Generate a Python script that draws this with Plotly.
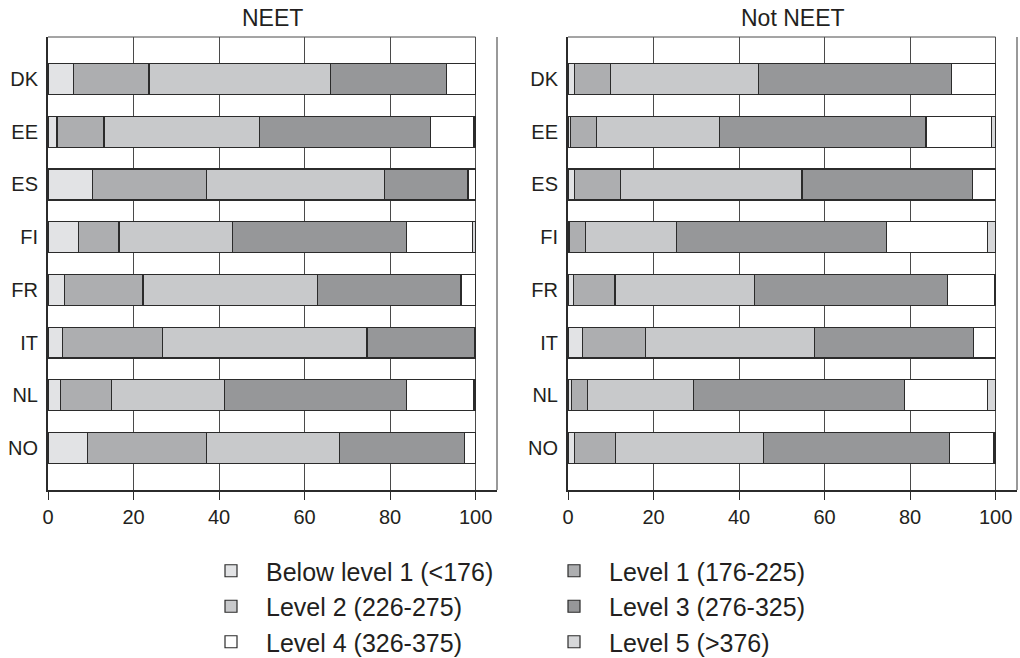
import plotly.graph_objects as go

countries = ["DK", "EE", "ES", "FI", "FR", "IT", "NL", "NO"]
level_names = [
    "Below level 1 (<176)",
    "Level 1 (176-225)",
    "Level 2 (226-275)",
    "Level 3 (276-325)",
    "Level 4 (326-375)",
    "Level 5 (>376)",
]

# NEET panel (percent per level)
neet_bl1 = [5.9, 2.1, 10.4, 7.1, 3.8, 3.4, 2.9, 9.2]
neet_l1 = [17.7, 11.0, 26.7, 9.5, 18.4, 23.4, 12.0, 27.9]
neet_l2 = [42.4, 36.3, 41.6, 26.5, 40.8, 47.8, 26.3, 31.1]
neet_l3 = [27.2, 40.1, 19.5, 40.7, 33.6, 25.2, 42.6, 29.2]
neet_l4 = [6.8, 10.1, 1.8, 15.5, 3.4, 0.2, 15.8, 2.6]
neet_l5 = [0.0, 0.4, 0.0, 0.7, 0.0, 0.0, 0.4, 0.0]

# Not NEET panel
not_bl1 = [1.5, 0.5, 1.5, 0.4, 1.3, 3.4, 0.8, 1.6]
not_l1 = [8.5, 6.1, 10.8, 3.7, 9.7, 14.8, 3.7, 9.6]
not_l2 = [34.5, 28.8, 42.4, 21.3, 32.6, 39.5, 24.8, 34.5]
not_l3 = [45.2, 48.3, 39.8, 49.1, 45.2, 37.2, 49.4, 43.5]
not_l4 = [10.3, 15.4, 5.5, 23.6, 11.0, 5.1, 19.4, 10.4]
not_l5 = [0.0, 0.9, 0.0, 1.9, 0.2, 0.0, 1.9, 0.4]

colors = ["#e2e3e5", "#adaeb0", "#c8c9cb", "#969799", "#ffffff", "#d6d7d9"]
legend_of = ["legend", "legend2", "legend", "legend2", "legend", "legend2"]

neet = [neet_bl1, neet_l1, neet_l2, neet_l3, neet_l4, neet_l5]
notneet = [not_bl1, not_l1, not_l2, not_l3, not_l4, not_l5]

FONT = "Liberation Sans, Arial, sans-serif"
TXT = "#231f20"

W, H = 1020, 658


def px(x):
    return x / W


def py(y):
    return 1 - y / H


fig = go.Figure()
for i, name in enumerate(level_names):
    for panel, data in ((1, neet), (2, notneet)):
        fig.add_trace(go.Bar(
            y=countries, x=data[i], orientation="h", name=name,
            marker=dict(color=colors[i], line=dict(color="#2b2b2b", width=1.2)),
            width=0.585,
            xaxis="x" if panel == 1 else "x2",
            yaxis="y" if panel == 1 else "y2",
            showlegend=(panel == 1),
            legend=legend_of[i],
            legendgroup=f"g{i}",
        ))

ydom = [py(490), py(37)]
xdom1 = [px(48), px(497)]
xdom2 = [px(568), px(1017)]

xcommon = dict(
    range=[0, 105], tickvals=[0, 20, 40, 60, 80, 100], showgrid=True,
    gridcolor="#4a4a4a", gridwidth=1, zeroline=False, showline=True,
    linecolor="#2b2b2b", linewidth=1.5, ticks="outside", ticklen=8,
    tickcolor="#2b2b2b", tickwidth=1.2, automargin=False,
    tickfont=dict(size=20, color=TXT, family=FONT), fixedrange=True,
)
ycommon = dict(
    categoryorder="array", categoryarray=countries, range=[7.8, -0.8],
    showgrid=False, zeroline=False, showline=True, linecolor="#2b2b2b",
    linewidth=2, ticks="", ticklabelstandoff=4, automargin=False,
    tickfont=dict(size=20, color=TXT, family=FONT), fixedrange=True,
)

legend_common = dict(
    xanchor="left", yanchor="top", orientation="v",
    font=dict(size=25, color=TXT, family=FONT),
    itemwidth=60, tracegroupgap=0, bgcolor="rgba(0,0,0,0)",
)

fig.update_layout(
    width=W, height=H,
    margin=dict(l=0, r=0, t=0, b=0, autoexpand=False),
    paper_bgcolor="white", plot_bgcolor="white",
    barmode="stack", bargap=0.4,
    font=dict(family=FONT, color=TXT),
    xaxis=dict(domain=xdom1, anchor="y", **xcommon),
    yaxis=dict(domain=ydom, anchor="x", **ycommon),
    xaxis2=dict(domain=xdom2, anchor="y2", **xcommon),
    yaxis2=dict(domain=ydom, anchor="x2", **ycommon),
    legend=dict(x=px(196), y=py(548), **legend_common),
    legend2=dict(x=px(539), y=py(548), **legend_common),
    annotations=[
        dict(text="NEET", x=(xdom1[0] + xdom1[1]) / 2, y=py(18), xref="paper",
             yref="paper", showarrow=False, xanchor="center", yanchor="middle",
             font=dict(size=23, color=TXT, family=FONT)),
        dict(text="Not NEET", x=(xdom2[0] + xdom2[1]) / 2, y=py(18), xref="paper",
             yref="paper", showarrow=False, xanchor="center", yanchor="middle",
             font=dict(size=23, color=TXT, family=FONT)),
    ],
    shapes=[
        dict(type="line", xref="paper", yref="paper", x0=xdom1[1], x1=xdom1[1],
             y0=ydom[0], y1=ydom[1], line=dict(color="#555555", width=1.2)),
        dict(type="line", xref="paper", yref="paper", x0=xdom2[1], x1=xdom2[1],
             y0=ydom[0], y1=ydom[1], line=dict(color="#555555", width=1.2)),
        dict(type="line", xref="x", yref="paper", x0=0, x1=100,
             y0=ydom[1], y1=ydom[1], line=dict(color="#4a4a4a", width=1)),
        dict(type="line", xref="x2", yref="paper", x0=0, x1=100,
             y0=ydom[1], y1=ydom[1], line=dict(color="#4a4a4a", width=1)),
    ],
)

fig.write_html("out.html", config={"displayModeBar": False},
               post_script="document.body.style.margin='0';")
